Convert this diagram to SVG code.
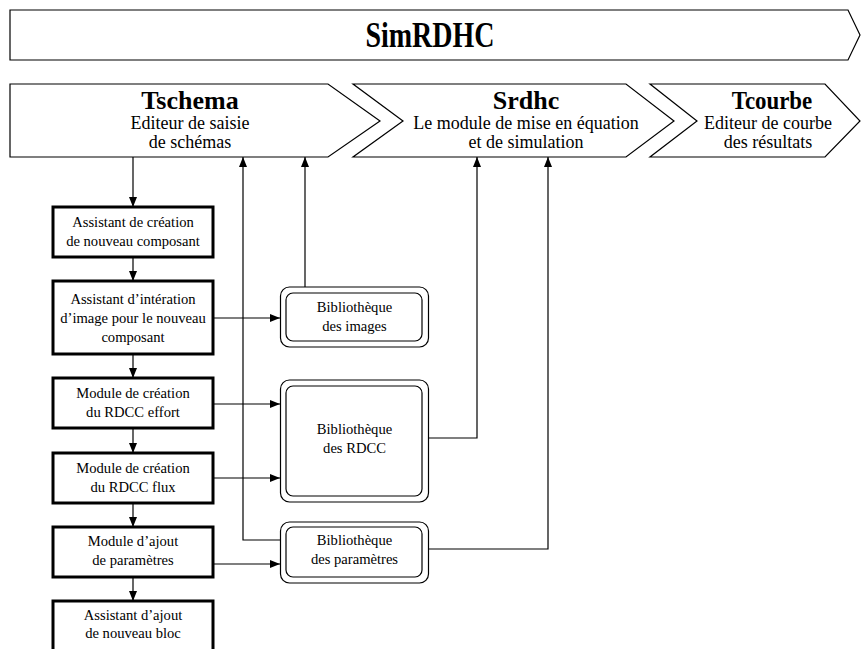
<svg xmlns="http://www.w3.org/2000/svg" width="861" height="649" viewBox="0 0 861 649">
  <style>
    text { font-family: "Liberation Serif", "Times New Roman", serif; fill: #000; text-anchor: middle; }
    .title { font-size: 35px; font-weight: bold; }
    .head { font-size: 26px; font-weight: bold; }
    .sub { font-size: 18px; }
    .lbl { font-size: 14.6px; }
    .chev { fill: #fff; stroke: #000; stroke-width: 1.2; }
    .step { fill: #fff; stroke: #000; stroke-width: 3; }
    .lib { fill: #fff; stroke: #000; stroke-width: 1.2; }
    .wire { fill: none; stroke: #000; stroke-width: 1.2; }
  </style>
  <defs>
    <marker id="arr" viewBox="0 0 10 8" refX="10" refY="4" markerWidth="10" markerHeight="8" markerUnits="userSpaceOnUse" orient="auto">
      <path d="M0,0 L10,4 L0,8 z" fill="#000"/>
    </marker>
  </defs>
  <rect width="861" height="649" fill="#fff"/>

  <!-- application banner -->
  <g id="simrdhc">
    <path class="chev" d="M10,10 L848,10 L860,35 L848,60 L10,60 Z"/>
    <text class="title" transform="translate(430,47) scale(0.8,1)">SimRDHC</text>
  </g>

  <!-- tool chain -->
  <g id="tschema">
    <path class="chev" d="M10,84 L328,84 L380,121 L328,157 L10,157 Z"/>
    <text class="head" x="190" y="109">Tschema</text>
    <text class="sub" x="190" y="129">Editeur de saisie</text>
    <text class="sub" x="190" y="148">de schémas</text>
  </g>
  <g id="srdhc">
    <path class="chev" d="M353,84 L626,84 L674,121 L626,157 L353,157 L403,121 Z"/>
    <text class="head" x="526" y="109">Srdhc</text>
    <text class="sub" x="526" y="129">Le module de mise en équation</text>
    <text class="sub" x="526" y="148">et de simulation</text>
  </g>
  <g id="tcourbe">
    <path class="chev" d="M650,84 L825,84 L860,121 L825,157 L650,157 L697,121 Z"/>
    <text class="head" transform="translate(772,109) scale(0.88,1)">Tcourbe</text>
    <text class="sub" x="768" y="129">Editeur de courbe</text>
    <text class="sub" x="768" y="148">des résultats</text>
  </g>

  <!-- editor steps -->
  <g id="assistant-composant">
    <rect class="step" x="53" y="207" width="160" height="50"/>
    <text class="lbl" x="133" y="227">Assistant de création</text>
    <text class="lbl" x="133" y="246">de nouveau composant</text>
  </g>
  <g id="assistant-image">
    <rect class="step" x="53" y="281" width="160" height="73"/>
    <text class="lbl" x="133" y="304">Assistant d’intération</text>
    <text class="lbl" x="133" y="323">d’image pour le nouveau</text>
    <text class="lbl" x="133" y="342">composant</text>
  </g>
  <g id="module-effort">
    <rect class="step" x="53" y="378" width="160" height="50"/>
    <text class="lbl" x="133" y="398">Module de création</text>
    <text class="lbl" x="133" y="417">du RDCC effort</text>
  </g>
  <g id="module-flux">
    <rect class="step" x="53" y="453" width="160" height="50"/>
    <text class="lbl" x="133" y="473">Module de création</text>
    <text class="lbl" x="133" y="492">du RDCC flux</text>
  </g>
  <g id="module-parametres">
    <rect class="step" x="53" y="527" width="160" height="50"/>
    <text class="lbl" x="133" y="546">Module d’ajout</text>
    <text class="lbl" x="133" y="565">de paramètres</text>
  </g>
  <g id="assistant-bloc">
    <rect class="step" x="53" y="601" width="160" height="60"/>
    <text class="lbl" x="133" y="620">Assistant d’ajout</text>
    <text class="lbl" x="133" y="638">de nouveau bloc</text>
  </g>

  <!-- libraries -->
  <g id="bib-images">
    <rect class="lib" x="280.5" y="287" width="148" height="60" rx="9"/>
    <rect class="lib" x="286" y="293" width="136" height="48" rx="7"/>
    <text class="lbl" x="354.5" y="312">Bibliothèque</text>
    <text class="lbl" x="354.5" y="331">des images</text>
  </g>
  <g id="bib-rdcc">
    <rect class="lib" x="280.5" y="380" width="148" height="122" rx="9"/>
    <rect class="lib" x="286" y="386" width="136" height="110" rx="7"/>
    <text class="lbl" x="354.5" y="434">Bibliothèque</text>
    <text class="lbl" x="354.5" y="453">des RDCC</text>
  </g>
  <g id="bib-parametres">
    <rect class="lib" x="280.5" y="522" width="148" height="61" rx="9"/>
    <rect class="lib" x="286" y="527" width="136" height="50" rx="7"/>
    <text class="lbl" x="354.5" y="545">Bibliothèque</text>
    <text class="lbl" x="354.5" y="564">des paramètres</text>
  </g>

  <!-- connectors -->
  <g id="connectors">
    <line class="wire" x1="133" y1="157" x2="133" y2="207" marker-end="url(#arr)"/>
    <line class="wire" x1="133" y1="257" x2="133" y2="281" marker-end="url(#arr)"/>
    <line class="wire" x1="133" y1="354" x2="133" y2="378" marker-end="url(#arr)"/>
    <line class="wire" x1="133" y1="428" x2="133" y2="453" marker-end="url(#arr)"/>
    <line class="wire" x1="133" y1="503" x2="133" y2="527" marker-end="url(#arr)"/>
    <line class="wire" x1="133" y1="577" x2="133" y2="601" marker-end="url(#arr)"/>

    <line class="wire" x1="213" y1="318" x2="280" y2="318" marker-end="url(#arr)"/>
    <line class="wire" x1="213" y1="404" x2="280" y2="404" marker-end="url(#arr)"/>
    <line class="wire" x1="213" y1="478" x2="280" y2="478" marker-end="url(#arr)"/>
    <line class="wire" x1="213" y1="564" x2="280" y2="564" marker-end="url(#arr)"/>

    <polyline class="wire" points="280,540 243,540 243,157" marker-end="url(#arr)"/>
    <line class="wire" x1="305" y1="287" x2="305" y2="157" marker-end="url(#arr)"/>
    <polyline class="wire" points="428,438 477,438 477,157" marker-end="url(#arr)"/>
    <polyline class="wire" points="428,549 548,549 548,157" marker-end="url(#arr)"/>
  </g>
</svg>
